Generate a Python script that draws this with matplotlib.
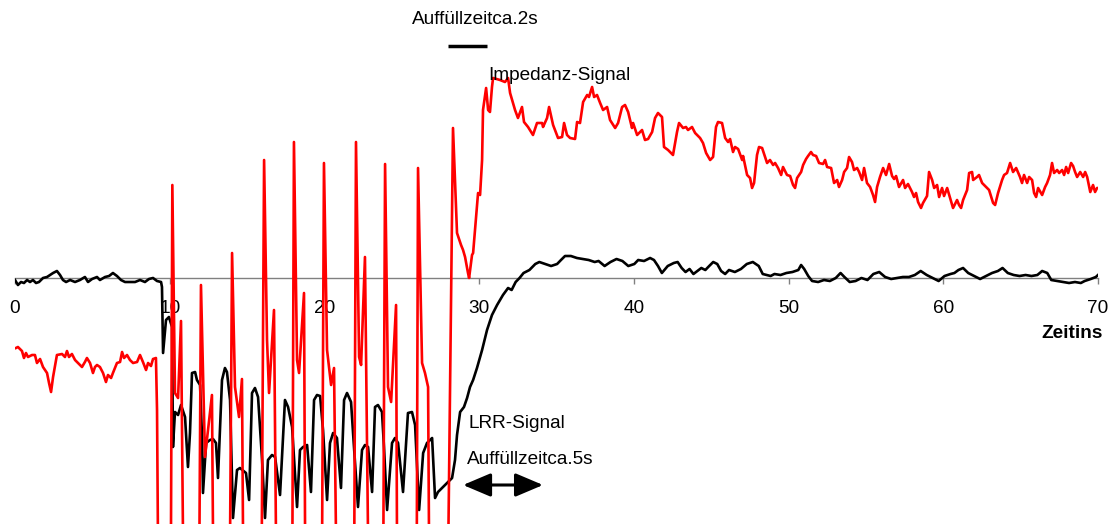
import matplotlib
matplotlib.use("Agg")
import matplotlib.pyplot as plt

plt.rcParams["font.family"] = ["Liberation Sans", "DejaVu Sans"]

x_ticks = [0, 10, 20, 30, 40, 50, 60, 70]

# Impedanz-Signal (red), time in s, value in arbitrary units (0 = axis)
imp_t = [0.06, 0.19, 0.45, 0.58, 0.71, 0.84, 1.10, 1.29, 1.42, 1.62, 1.81, 2.07, 2.20, 2.33,
         2.46, 2.71, 3.04, 3.23, 3.36, 3.49, 3.68, 3.88, 4.07, 4.33, 4.52, 4.65, 4.85, 5.04,
         5.17, 5.30, 5.49, 5.69, 5.88, 6.01, 6.21, 6.33, 6.59, 6.79, 6.92, 7.05, 7.24, 7.43,
         7.63, 7.89, 8.08, 8.27, 8.47, 8.60, 8.79, 8.92, 9.11, 9.18, 9.24,
         10.08, 10.17, 10.34, 10.54, 10.73, 10.86,
         11.92, 12.02, 12.28, 12.73, 12.80,
         13.90, 14.03, 14.22, 14.48, 14.67, 14.74,
         15.95, 16.10, 16.29, 16.42, 16.74, 16.87,
         17.93, 18.03, 18.23, 18.36, 18.68, 18.75,
         19.85, 19.97, 20.17, 20.43, 20.62, 20.75,
         21.93, 22.04, 22.24, 22.37, 22.62, 22.82,
         23.81, 23.92, 24.11, 24.31, 24.63, 24.69,
         25.97, 26.05, 26.31, 26.50, 26.70, 26.76,
         28.01, 28.31, 28.57, 28.83, 28.96, 29.09, 29.28, 29.35, 29.54, 29.61, 29.80, 29.93,
         30.06, 30.19, 30.25, 30.45, 30.58, 30.70, 30.83, 30.90, 31.35, 31.67, 31.87, 32.00,
         32.32, 32.51, 32.77, 32.90, 33.16, 33.48, 33.74, 34.07, 34.13, 34.39, 34.52, 34.78,
         35.10, 35.36, 35.49, 35.68, 35.88, 36.20, 36.33, 36.52, 36.72, 36.98, 37.10, 37.30,
         37.43, 37.62, 37.82, 38.01, 38.27, 38.46, 38.79, 38.98, 39.24, 39.43, 39.63, 39.88,
         39.95, 40.21, 40.53, 40.72, 40.92, 41.18, 41.37, 41.56, 41.82, 41.95, 42.21, 42.53,
         42.79, 42.92, 43.18, 43.37, 43.50, 43.76, 43.96, 44.28, 44.47, 44.67, 44.93, 45.12,
         45.31, 45.44, 45.70, 45.90, 46.09, 46.22, 46.41, 46.54, 46.74, 47.00, 47.06, 47.32,
         47.51, 47.64, 47.77, 47.96, 48.09, 48.29, 48.48, 48.61, 48.80, 49.00, 49.13, 49.32,
         49.52, 49.64, 49.90, 50.10, 50.29, 50.42, 50.55, 50.81, 50.94, 51.13, 51.26, 51.45,
         51.58, 51.78, 51.97, 52.23, 52.36, 52.49, 52.75, 52.94, 53.14, 53.26, 53.46, 53.59,
         53.78, 53.91, 54.10, 54.23, 54.43, 54.56, 54.75, 54.88, 55.07, 55.27, 55.46, 55.59,
         55.72, 55.91, 56.11, 56.30, 56.50, 56.69, 56.82, 56.95, 57.14, 57.40, 57.53, 57.72,
         57.98, 58.11, 58.24, 58.37, 58.56, 58.69, 58.95, 59.08, 59.28, 59.41, 59.60, 59.73,
         59.92, 60.05, 60.25, 60.44, 60.63, 60.89, 61.02, 61.15, 61.28, 61.54, 61.67, 61.86,
         61.93, 62.18, 62.31, 62.51, 62.77, 62.96, 63.22, 63.35, 63.54, 63.80, 63.93, 64.12,
         64.32, 64.51, 64.71, 64.96, 65.09, 65.22, 65.42, 65.55, 65.74, 65.87, 66.00, 66.13,
         66.39, 66.58, 66.71, 66.90, 67.03, 67.16, 67.36, 67.49, 67.68, 67.81, 67.94, 68.07,
         68.26, 68.39, 68.52, 68.65, 68.85, 69.04, 69.17, 69.30, 69.50, 69.68, 69.81, 69.94,
         70.10]
imp_v = [-70, -69, -73, -80, -75, -79, -77, -77, -85, -81, -89, -95, -105, -114,
         -99, -77, -76, -79, -73, -79, -76, -82, -85, -89, -84, -80, -85, -95,
         -89, -87, -89, -95, -104, -97, -100, -95, -85, -84, -74, -80, -77, -82,
         -85, -84, -77, -84, -92, -85, -88, -81, -80, -132, -260,
         -260, 93, -115, -120, -43, -260,
         -260, -7, -179, -117, -260,
         -260, 25, -109, -139, -101, -260,
         -260, 118, -62, -115, -32, -260,
         -260, 136, -82, -95, -15, -260,
         -260, 115, -72, -107, -90, -260,
         -260, 136, -79, -87, 21, -260,
         -260, 114, -109, -124, -27, -260,
         -260, 110, -85, -95, -109, -260,
         -260, 150, 45, 33, 28, 21, 5, 0, 23, 25, 61, 85,
         83, 118, 168, 190, 168, 166, 191, 200, 198, 196, 200, 185,
         168, 160, 171, 156, 151, 143, 155, 155, 151, 160, 171, 153,
         140, 141, 155, 143, 140, 139, 156, 155, 176, 183, 181, 191,
         181, 183, 175, 168, 171, 158, 150, 155, 171, 173, 166, 150,
         155, 143, 148, 138, 139, 146, 160, 165, 161, 131, 128, 123,
         146, 155, 150, 151, 148, 151, 145, 140, 135, 125, 118, 121,
         151, 156, 155, 140, 136, 139, 126, 131, 129, 118, 122, 103,
         100, 90, 95, 123, 131, 130, 121, 115, 118, 113, 115, 110,
         103, 111, 103, 102, 93, 90, 100, 106, 113, 119, 122, 126,
         123, 122, 115, 114, 118, 111, 110, 95, 98, 91, 98, 106,
         110, 121, 116, 108, 110, 106, 98, 110, 95, 91, 83, 76,
         91, 101, 110, 103, 114, 102, 99, 102, 91, 98, 90, 94,
         86, 81, 85, 76, 70, 75, 82, 106, 98, 90, 93, 81,
         90, 82, 90, 80, 70, 78, 73, 70, 78, 88, 105, 106,
         98, 101, 103, 95, 91, 88, 75, 73, 85, 98, 103, 105,
         115, 106, 110, 101, 95, 103, 95, 101, 98, 85, 81, 90,
         83, 91, 95, 103, 115, 105, 108, 105, 108, 103, 111, 105,
         115, 112, 106, 101, 106, 101, 106, 101, 86, 93, 86, 90,
         90]

# LRR-Signal (black)
lrr_t = [0.00, 0.19, 0.39, 0.58, 0.78, 0.97, 1.16, 1.36, 1.55, 1.81, 2.07, 2.26, 2.46, 2.71,
         2.91, 3.10, 3.30, 3.56, 3.88, 4.20, 4.52, 4.72, 4.98, 5.30, 5.49, 5.82, 6.08, 6.33,
         6.59, 6.85, 7.11, 7.43, 7.76, 8.08, 8.40, 8.66, 8.92, 9.18, 9.44,
         9.50, 9.57, 9.76, 9.95, 10.15, 10.21, 10.34, 10.54, 10.73, 10.99, 11.18, 11.31, 11.44,
         11.64, 11.76, 11.96, 12.09, 12.15, 12.35, 12.60, 12.80, 12.99, 13.12, 13.38, 13.57,
         13.70, 13.90, 14.09, 14.35, 14.54, 14.93, 15.13, 15.32, 15.51, 15.71, 15.97, 16.16,
         16.35, 16.61, 16.81, 17.13, 17.45, 17.65, 17.91, 18.23, 18.42, 18.62, 18.88, 19.13,
         19.33, 19.52, 19.72, 19.91, 20.17, 20.36, 20.56, 20.81, 21.07, 21.27, 21.46, 21.72,
         21.85, 22.17, 22.43, 22.62, 22.82, 23.08, 23.27, 23.46, 23.72, 23.85, 24.05, 24.37,
         24.56, 24.76, 25.08, 25.40, 25.66, 25.86, 26.12, 26.38, 26.63, 26.96, 27.15, 27.34,
         27.67, 27.99, 28.25, 28.44, 28.57, 28.77, 29.02, 29.22, 29.41, 29.61, 29.86,
         30.19, 30.51, 30.83, 31.16, 31.54, 31.87,
         32.10, 32.36, 32.61, 32.87, 33.25, 33.63, 33.89, 34.27, 34.65, 35.04, 35.29, 35.55,
         35.93, 36.32, 36.70, 37.08, 37.47, 37.72, 38.11, 38.49, 38.88, 39.26, 39.64, 40.03,
         40.28, 40.66, 41.05, 41.30, 41.56, 41.81, 42.19, 42.58, 42.83, 43.09, 43.34, 43.60,
         43.85, 44.11, 44.36, 44.62, 44.87, 45.13, 45.39, 45.64, 45.90, 46.15, 46.53, 46.92,
         47.30, 47.69, 48.07, 48.33, 48.58, 48.84, 49.09, 49.48, 49.86, 50.25, 50.63, 50.81,
         51.01, 51.27, 51.52, 51.91, 52.29, 52.67, 53.05, 53.36, 53.61, 53.95, 54.33, 54.71,
         55.10, 55.48, 55.86, 56.24, 56.63, 57.01, 57.39, 57.78, 58.16, 58.54, 58.93, 59.31,
         59.70, 60.08, 60.47, 60.72, 60.98, 61.28, 61.61, 62.00, 62.38, 62.76, 63.15, 63.53,
         63.83, 64.17, 64.55, 64.93, 65.32, 65.70, 66.08, 66.39, 66.72, 66.98, 67.36, 67.74,
         68.13, 68.51, 68.89, 69.14, 69.53, 69.86, 70.00]
lrr_v = [-2, -7, -4, -5, -2, -4, -2, -5, -4, 0, 1, 3, 5, 7,
         3, -2, -4, -2, -4, -2, 1, -4, -1, 1, -2, 1, 2, 5,
         2, -2, -4, -4, -4, -2, -4, -1, 0, -3, -4,
         -9, -75, -42, -39, -49, -169, -134, -137, -127, -139, -189, -155, -95,
         -94, -102, -107, -159, -215, -165, -162, -161, -165, -200, -102, -90,
         -94, -122, -240, -192, -190, -195, -222, -115, -110, -119, -182, -240,
         -182, -177, -179, -217, -122, -129, -149, -229, -172, -169, -167, -214,
         -122, -117, -118, -152, -222, -165, -155, -160, -210, -122, -115, -124,
         -155, -229, -172, -167, -169, -214, -129, -127, -134, -169, -232, -165,
         -160, -165, -214, -135, -134, -147, -232, -175, -165, -160, -220, -214,
         -209, -204, -200, -182, -157, -134, -129, -120, -109, -102, -90,
         -72, -52, -37, -27, -17, -10,
         -12, -4, 0, 5, 8, 14, 16, 14, 12, 14, 18, 22,
         22, 20, 19, 18, 16, 17, 12, 16, 19, 17, 12, 14,
         18, 17, 20, 18, 12, 5, 12, 15, 16, 10, 6, 9,
         4, 7, 10, 8, 12, 16, 14, 7, 4, 8, 6, 9,
         14, 16, 12, 4, 3, 2, 4, 3, 5, 6, 8, 13,
         9, 2, -3, -4, -2, -3, 0, 5, 1, -4, -3, 0,
         -2, 4, 6, 1, -1, 0, 1, 1, 3, 7, 3, 0,
         -3, 2, 4, 5, 8, 10, 5, 2, -1, 2, 5, 7,
         10, 5, 3, 2, 3, 2, 3, 7, 5, -2, -3, -4,
         -5, -4, -5, -3, -1, 1, 3]

# annotation marks: time spans of the two filling-time markers
short_span = [28.0, 30.5]
short_level = 232
long_span = [28.96, 34.13]
long_level = -207

fig = plt.figure(figsize=(11.19, 5.24), dpi=100, facecolor="white")
ax = fig.add_axes([15 / 1119, 0, 1083 / 1119, 1])
ax.set_xlim(0, 70)
ax.set_ylim(-246, 278)

ax.plot(lrr_t, lrr_v, color="black", lw=1.9, zorder=3)
ax.plot(imp_t, imp_v, color="#ff0000", lw=1.9, zorder=4)

for side in ["left", "right", "top"]:
    ax.spines[side].set_visible(False)
ax.spines["bottom"].set_position(("data", 0))
ax.spines["bottom"].set_color("#808080")
ax.spines["bottom"].set_linewidth(1.0)
ax.set_yticks([])
ax.set_xticks(x_ticks)
ax.tick_params(axis="x", direction="out", length=4, width=1, color="#808080",
               pad=12, labelsize=13.7)

fs = 13.7
ax.text(70.33, -55, "Zeitins", ha="right", va="center", fontsize=fs, fontweight="bold")
ax.text(25.66, 258, "Auffüllzeitca.2s", ha="left", va="center", fontsize=fs)
ax.plot(short_span, [short_level, short_level], color="black", lw=2.5, solid_capstyle="butt")
ax.text(30.58, 203, "Impedanz-Signal", ha="left", va="center", fontsize=fs, zorder=5)
ax.text(29.28, -146, "LRR-Signal", ha="left", va="center", fontsize=fs)
ax.text(29.22, -182, "Auffüllzeitca.5s", ha="left", va="center", fontsize=fs)
ax.annotate("", xy=(long_span[1], long_level), xytext=(long_span[0], long_level),
            arrowprops=dict(arrowstyle="<|-|>,head_length=0.85,head_width=0.36",
                            color="black", lw=2.2, mutation_scale=20,
                            shrinkA=0, shrinkB=0))

fig.savefig("out.png", dpi=100, facecolor="white")
